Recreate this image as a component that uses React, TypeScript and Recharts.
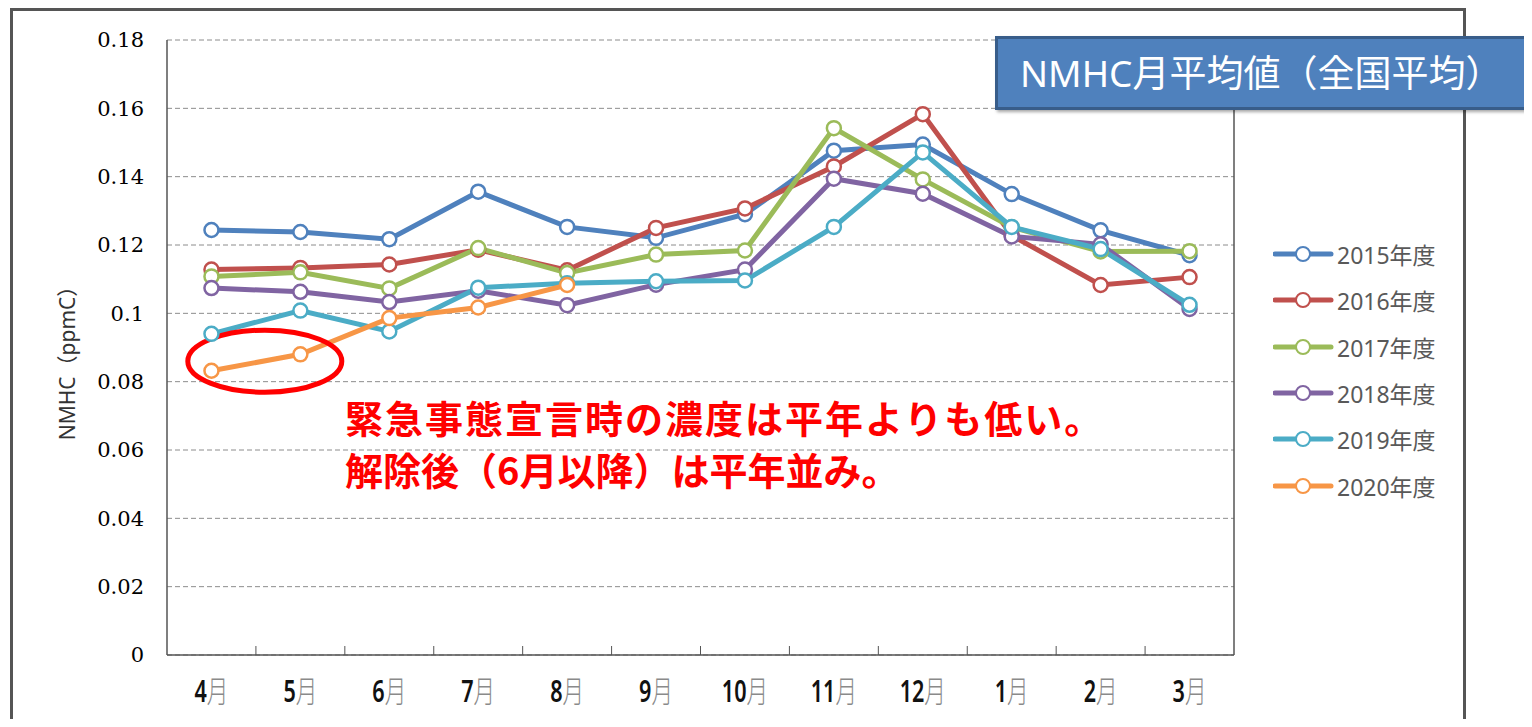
import {
    LineChart,
    Line,
    XAxis,
    YAxis,
    CartesianGrid,
    Legend,
    ReferenceLine,
    ReferenceDot,
} from "recharts";

// 月 (年度順: 4月 → 3月)
const months = ["4月", "5月", "6月", "7月", "8月", "9月", "10月", "11月", "12月", "1月", "2月", "3月"];

// NMHC 月平均値 (ppmC)
const fy2015 = [0.1244, 0.1238, 0.1217, 0.1356, 0.1253, 0.1221, 0.129, 0.1476, 0.1494, 0.1349, 0.1243, 0.117];
const fy2016 = [0.1128, 0.1133, 0.1143, 0.1186, 0.1126, 0.125, 0.1307, 0.143, 0.1583, 0.1228, 0.1083, 0.1106];
const fy2017 = [0.1108, 0.112, 0.1073, 0.1191, 0.1118, 0.1172, 0.1184, 0.1542, 0.1392, 0.1252, 0.1181, 0.1182];
const fy2018 = [0.1074, 0.1063, 0.1033, 0.1066, 0.1024, 0.1084, 0.1128, 0.1394, 0.135, 0.1225, 0.1202, 0.1013];
const fy2019 = [0.094, 0.1008, 0.0947, 0.1075, 0.1088, 0.1094, 0.1096, 0.1253, 0.1471, 0.1253, 0.1188, 0.1025];
const fy2020 = [0.0832, 0.088, 0.0986, 0.1017, 0.1083];

const yTicks = [0, 0.02, 0.04, 0.06, 0.08, 0.1, 0.12, 0.14, 0.16, 0.18];

const series = [
    { key: "fy2015", name: "2015年度", color: "#4F81BD", values: fy2015 },
    { key: "fy2016", name: "2016年度", color: "#C0504D", values: fy2016 },
    { key: "fy2017", name: "2017年度", color: "#9BBB59", values: fy2017 },
    { key: "fy2018", name: "2018年度", color: "#8064A2", values: fy2018 },
    { key: "fy2019", name: "2019年度", color: "#4BACC6", values: fy2019 },
    { key: "fy2020", name: "2020年度", color: "#F79646", values: fy2020 },
];

// 緊急事態宣言期間 (4月・5月) を囲む楕円の中心
const highlight = { x: 1.1, y: 0.086 };

const data = months.map((m, i) => {
    const row: Record<string, number | string | undefined> = { x: i + 0.5, month: m };
    series.forEach((s) => {
        row[s.key] = s.values[i];
    });
    return row;
});

const labelTicks = months.map((_, i) => i + 0.5);
const boundaryTicks = months.slice(1).map((_, i) => i + 1);

const MonthTick = (props: any) => {
    const { x, y, payload } = props;
    const label = months[Math.floor(payload.value)] ?? "";
    const num = label.replace("月", "");
    return (
        <text
            transform={`translate(${x},${y + 47}) scale(0.72,1)`}
            textAnchor="middle"
            fontSize={30}
            fontFamily="'Noto Sans', 'Noto Sans CJK JP'"
        >
            <tspan fill="#111" fontWeight={600}>{num}</tspan>
            <tspan fill="#8a8a8a" fontWeight={300}>月</tspan>
        </text>
    );
};

// 目盛線だけ描く (ラベルなし)
const EmptyTick = () => <g />;

const LegendContent = (props: any) => {
    const { payload } = props;
    return (
        <div>
            {(payload || []).map((p: any) => (
                <div key={p.value} style={{ display: "flex", alignItems: "center", height: 46.3 }}>
                    <svg width={62} height={20}>
                        <line x1={2} x2={58} y1={10} y2={10} stroke={p.color} strokeWidth={5} strokeLinecap="round" />
                        <circle cx={30} cy={10} r={7} fill="#fff" stroke={p.color} strokeWidth={2} />
                    </svg>
                    <span
                        style={{
                            fontFamily: "'Noto Sans', 'Noto Sans CJK JP'",
                            fontSize: 23,
                            color: "#595959",
                            marginLeft: 2,
                        }}
                    >
                        {p.value}
                    </span>
                </div>
            ))}
        </div>
    );
};

export default function App() {
    return (
        <div style={{ position: "relative", width: 1532, height: 727, margin: -8, overflow: "hidden", background: "#fff" }}>
            <div
                style={{
                    position: "absolute",
                    left: 10,
                    top: 8,
                    width: 1450,
                    height: 740,
                    border: "3px solid #555",
                }}
            />
            <div style={{ position: "absolute", left: 0, top: 0 }}>
                <LineChart width={1532} height={727} data={data} margin={{ top: 40, right: 298, bottom: 0, left: 0 }}>
                    <CartesianGrid
                        xAxisId="m"
                        vertical={false}
                        stroke="#8c8c8c"
                        strokeDasharray="5 3"
                    />
                    <XAxis
                        xAxisId="t"
                        type="number"
                        dataKey="x"
                        domain={[0, 12]}
                        ticks={boundaryTicks}
                        mirror
                        tick={<EmptyTick />}
                        axisLine={false}
                        tickLine={{ stroke: "#555" }}
                        tickSize={9}
                    />
                    <XAxis
                        xAxisId="m"
                        type="number"
                        dataKey="x"
                        domain={[0, 12]}
                        ticks={labelTicks}
                        interval={0}
                        tick={<MonthTick />}
                        tickLine={false}
                        tickSize={0}
                        tickMargin={0}
                        height={72}
                        axisLine={{ stroke: "#555", strokeWidth: 1.5 }}
                    />
                    <YAxis
                        domain={[0, 0.18]}
                        ticks={yTicks}
                        width={167}
                        tickLine={false}
                        tickSize={0}
                        tickMargin={23}
                        axisLine={{ stroke: "#555", strokeWidth: 1.5 }}
                        tickFormatter={(v: number) => String(Number(v.toFixed(2)))}
                        tick={{ fontFamily: "'DejaVu Serif'", fontSize: 21, fill: "#000" }}
                    />
                    <ReferenceLine xAxisId="m" x={12} stroke="#555" strokeWidth={1.5} />
                    <Legend
                        layout="vertical"
                        align="center"
                        verticalAlign="middle"
                        content={<LegendContent />}
                        wrapperStyle={{ left: 1273, top: 231, width: 200 }}
                    />
                    {series.map((s) => (
                        <Line
                            key={s.key}
                            xAxisId="m"
                            dataKey={s.key}
                            name={s.name}
                            stroke={s.color}
                            strokeWidth={5}
                            dot={{ r: 7, fill: "#fff", stroke: s.color, strokeWidth: 2.5 }}
                            activeDot={false}
                            isAnimationActive={false}
                        />
                    ))}
                    <ReferenceDot
                        xAxisId="m"
                        x={highlight.x}
                        y={highlight.y}
                        shape={(p: any) => (
                            <ellipse cx={p.cx} cy={p.cy} rx={77} ry={31} fill="none" stroke="#FF0000" strokeWidth={5} />
                        )}
                    />
                </LineChart>
            </div>
            <div
                style={{
                    position: "absolute",
                    left: 66,
                    top: 358,
                    transform: "translate(-50%, -50%) rotate(-90deg)",
                    whiteSpace: "nowrap",
                    fontFamily: "'Noto Sans', 'Noto Sans CJK JP'",
                    fontSize: 21,
                    color: "#333",
                }}
            >
                NMHC（ppmC）
            </div>
            <div
                style={{
                    position: "absolute",
                    left: 345,
                    top: 391,
                    fontFamily: "'Noto Sans CJK JP'",
                    fontWeight: 700,
                    fontSize: 38,
                    lineHeight: "52px",
                    color: "#FF0000",
                    whiteSpace: "nowrap",
                }}
            >
                <div style={{ letterSpacing: 2 }}>緊急事態宣言時の濃度は平年よりも低い。</div>
                <div>解除後（6月以降）は平年並み。</div>
            </div>
            <div
                style={{
                    position: "absolute",
                    left: 995,
                    top: 36,
                    width: 560,
                    height: 68,
                    background: "#4F81BD",
                    border: "3px solid #385D8A",
                    boxShadow: "2px 2px 3px rgba(0,0,0,0.35)",
                    color: "#fff",
                    fontFamily: "'Noto Sans', 'Noto Sans CJK JP'",
                    fontSize: 37,
                    lineHeight: "68px",
                    paddingLeft: 22,
                    whiteSpace: "nowrap",
                }}
            >
                NMHC月平均値（全国平均）
            </div>
        </div>
    );
}
